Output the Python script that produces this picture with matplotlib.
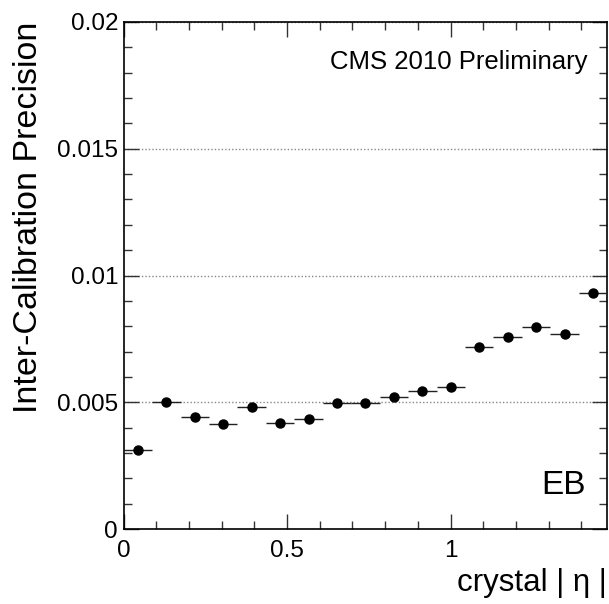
import numpy as np
import matplotlib
matplotlib.use("Agg")
import matplotlib.pyplot as plt
from matplotlib.ticker import MultipleLocator, FixedLocator, FuncFormatter

# 17 crystal |eta| bins in EB, width 0.087
bin_edges = [0.0, 0.087, 0.174, 0.261, 0.348, 0.435, 0.522, 0.609, 0.696, 0.783,
             0.870, 0.957, 1.044, 1.131, 1.218, 1.305, 1.392, 1.479]
precision = [0.00312, 0.00503, 0.00441, 0.00416, 0.00483, 0.00420, 0.00433, 0.00499,
             0.00499, 0.00520, 0.00546, 0.00559, 0.00718, 0.00759, 0.00799, 0.00770,
             0.00932]

edges = np.array(bin_edges)
centers = 0.5 * (edges[:-1] + edges[1:])
half_w = 0.5 * (edges[1:] - edges[:-1])

plt.rcParams['font.family'] = ['Liberation Sans', 'DejaVu Sans']

fig = plt.figure(figsize=(6.09, 6.04), dpi=100)
ax = fig.add_axes([0.203, 0.124, 0.794, 0.8396])

ax.errorbar(centers, precision, xerr=half_w, fmt='o', color='black',
            ecolor='#222222', elinewidth=1.0, markersize=6.5, capsize=0, zorder=3)

ax.set_xlim(0, 1.479)
ax.set_ylim(0, 0.02)

ax.xaxis.set_major_locator(FixedLocator([0, 0.5, 1.0]))
ax.xaxis.set_minor_locator(MultipleLocator(0.1))
ax.yaxis.set_major_locator(FixedLocator([0, 0.005, 0.01, 0.015, 0.02]))
ax.yaxis.set_minor_locator(MultipleLocator(0.001))
fmt = FuncFormatter(lambda v, p: '%g' % round(v, 4))
ax.xaxis.set_major_formatter(fmt)
ax.yaxis.set_major_formatter(fmt)

ax.tick_params(which='both', direction='in', top=True, right=True, width=1.0,
               color='#333333')
ax.tick_params(which='major', length=11, labelsize=17.5)
ax.tick_params(axis='x', which='major', pad=8)
ax.tick_params(axis='y', which='major', pad=4)
ax.tick_params(which='minor', length=5.5)

for s in ax.spines.values():
    s.set_linewidth(1.2)

ax.yaxis.grid(True, which='major', linestyle=(0, (1, 1.5)), color='#888888', linewidth=1.0)
ax.set_axisbelow(True)

ax.set_ylabel('Inter-Calibration Precision', fontsize=24.5, loc='top', labelpad=9)
ax.set_xlabel('crystal | η |', fontsize=22.5, loc='right', labelpad=4)

ax.text(0.959, 0.921, 'CMS 2010 Preliminary', transform=ax.transAxes,
        ha='right', va='center', fontsize=18.5)
ax.text(0.955, 0.085, 'EB', transform=ax.transAxes,
        ha='right', va='center', fontsize=24)

fig.savefig('out.png', dpi=100)
